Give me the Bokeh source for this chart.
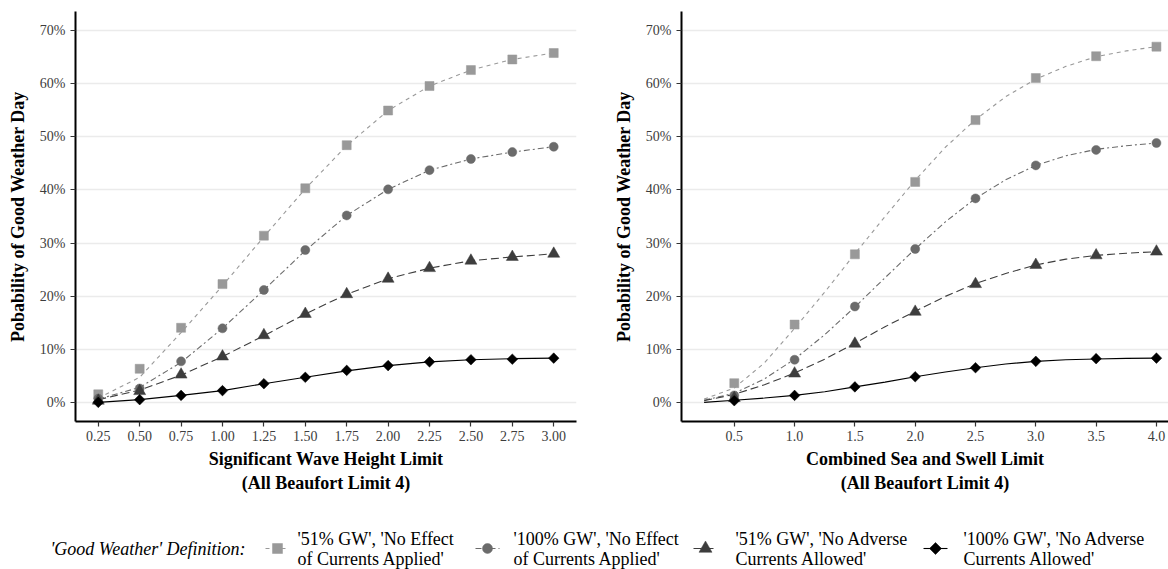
import numpy as np
from bokeh.plotting import figure
from bokeh.models import Range1d, FixedTicker, PrintfTickFormatter
from bokeh.layouts import column, row
from bokeh.embed import file_html
from bokeh.resources import INLINE
from bokeh.core.properties import value

FONT = "Liberation Serif"

# ---------------- data: left panel (Significant Wave Height Limit) ----------------
swh_x = [0.25, 0.50, 0.75, 1.00, 1.25, 1.50, 1.75, 2.00, 2.25, 2.50, 2.75, 3.00]
swh_51_noeffect = [1.6, 6.4, 14.1, 22.3, 31.4, 40.3, 48.4, 54.9, 59.5, 62.5, 64.5, 65.7]
swh_100_noeffect = [0.8, 2.7, 7.8, 14.0, 21.2, 28.7, 35.2, 40.1, 43.7, 45.8, 47.1, 48.1]
swh_51_noadverse = [0.4, 2.2, 5.3, 8.7, 12.7, 16.7, 20.4, 23.3, 25.3, 26.7, 27.4, 28.0]
swh_100_noadverse = [0.1, 0.6, 1.4, 2.3, 3.6, 4.8, 6.1, 7.0, 7.7, 8.1, 8.2, 8.4]
# fitted curves as drawn
swh_fit_51_noeffect = [0.9, 4.8, 13.2, 22.0, 31.2, 40.2, 48.3, 54.9, 59.5, 62.5, 64.5, 65.7]
swh_fit_100_noeffect = [0.7, 2.9, 7.6, 14.0, 21.2, 28.6, 35.2, 40.1, 43.7, 45.8, 47.1, 48.1]
swh_fit_51_noadverse = [0.6, 2.4, 5.2, 8.7, 12.6, 16.7, 20.4, 23.3, 25.3, 26.7, 27.4, 28.0]
swh_fit_100_noadverse = [0.1, 0.6, 1.4, 2.3, 3.6, 4.8, 6.0, 7.0, 7.7, 8.1, 8.3, 8.4]

# ---------------- data: right panel (Combined Sea and Swell Limit) ----------------
css_x = [0.5, 1.0, 1.5, 2.0, 2.5, 3.0, 3.5, 4.0]
css_51_noeffect = [3.7, 14.7, 27.9, 41.5, 53.1, 61.0, 65.1, 66.9]
css_100_noeffect = [1.4, 8.1, 18.1, 28.9, 38.4, 44.6, 47.5, 48.8]
css_51_noadverse = [0.9, 5.5, 11.1, 17.1, 22.3, 25.9, 27.7, 28.4]
css_100_noadverse = [0.4, 1.4, 3.0, 4.9, 6.6, 7.8, 8.3, 8.4]
css_fit_x = [0.25, 0.50, 0.75, 1.00, 1.25, 1.50, 1.75, 2.00, 2.25, 2.50, 2.75, 3.00, 3.25, 3.50, 3.75, 4.00]
css_fit_51_noeffect = [0.7, 2.8, 7.5, 14.0, 20.8, 28.0, 35.0, 41.8, 48.0, 53.2, 57.5, 60.8, 63.2, 65.0, 66.1, 66.9]
css_fit_100_noeffect = [0.5, 1.8, 4.5, 8.2, 12.8, 18.0, 23.5, 28.9, 34.0, 38.4, 41.9, 44.6, 46.4, 47.6, 48.3, 48.8]
css_fit_51_noadverse = [0.4, 1.6, 3.4, 5.6, 8.2, 11.2, 14.3, 17.2, 20.0, 22.4, 24.3, 25.9, 27.0, 27.7, 28.1, 28.4]
css_fit_100_noadverse = [0.1, 0.5, 0.9, 1.4, 2.1, 3.0, 3.9, 4.9, 5.8, 6.6, 7.3, 7.8, 8.1, 8.25, 8.35, 8.4]

y_ticks = [0, 10, 20, 30, 40, 50, 60, 70]
swh_ticks = [0.25, 0.50, 0.75, 1.00, 1.25, 1.50, 1.75, 2.00, 2.25, 2.50, 2.75, 3.00]
css_ticks = [0.5, 1.0, 1.5, 2.0, 2.5, 3.0, 3.5, 4.0]

series_labels = [
    "'51% GW', 'No Effect\nof Currents Applied'",
    "'100% GW', 'No Effect\nof Currents Applied'",
    "'51% GW', 'No Adverse\nCurrents Allowed'",
    "'100% GW', 'No Adverse\nCurrents Allowed'",
]
legend_title = "'Good Weather' Definition:"
y_title = "Pobability of Good Weather Day"
left_x_title = "Significant Wave Height Limit\n(All Beaufort Limit 4)"
right_x_title = "Combined Sea and Swell Limit\n(All Beaufort Limit 4)"

# ---------------- styles ----------------
COLORS = ["#999999", "#6b6b6b", "#3d3d3d", "#000000"]
DASHES = ["4 4", "6 3 2 3", "8 4", "solid"]
MARKERS = ["square", "circle", "triangle", "square"]
SIZES = [9, 9, 12, 7.5]
ANGLES = [0, 0, 0, np.pi / 4]

PANEL_H = 495


def make_panel(width, mb_left, mb_right, xr, ticks, fmt, xlabel, fit_x, fits, px, pts):
    p = figure(width=width, height=PANEL_H, x_range=Range1d(*xr), y_range=Range1d(-3.5, 73.5),
               output_backend="svg", toolbar_location=None,
               min_border_left=mb_left, min_border_right=mb_right,
               min_border_top=11, min_border_bottom=74)
    p.outline_line_color = None
    p.background_fill_color = "white"
    p.border_fill_color = "white"
    p.xgrid.visible = False
    p.ygrid.grid_line_color = "#ebebeb"
    p.ygrid.grid_line_width = 1.3
    p.yaxis.ticker = FixedTicker(ticks=y_ticks)
    p.yaxis.formatter = PrintfTickFormatter(format="%d%%")
    p.xaxis.ticker = FixedTicker(ticks=ticks)
    p.xaxis.formatter = PrintfTickFormatter(format=fmt)
    for ax in (p.xaxis[0], p.yaxis[0]):
        ax.axis_line_width = 2
        ax.axis_line_color = "black"
        ax.major_tick_line_color = "#333333"
        ax.major_tick_line_width = 1.2
        ax.major_tick_out = 5
        ax.major_tick_in = 0
        ax.minor_tick_out = 0
        ax.minor_tick_in = 0
        ax.major_label_text_font = FONT
        ax.major_label_text_font_size = "14px"
        ax.major_label_text_color = "#3d3d3d"
        ax.axis_label_text_font = FONT
        ax.axis_label_text_font_size = "18px"
        ax.axis_label_text_font_style = "bold"
        ax.axis_label_text_color = "black"
    p.xaxis.major_label_standoff = 4
    p.xaxis.axis_label_standoff = 5
    p.yaxis.major_label_standoff = 5
    p.yaxis.axis_label_standoff = 9
    p.xaxis.axis_label = xlabel
    p.yaxis.axis_label = y_title

    for i in range(4):
        p.line(fit_x, fits[i], line_color=COLORS[i], line_width=1.1, line_dash=DASHES[i])
    for i in range(4):
        p.scatter(px, pts[i], marker=MARKERS[i], size=SIZES[i], angle=ANGLES[i],
                  fill_color=COLORS[i], line_color=COLORS[i], line_width=0.5)
    return p


p1 = make_panel(610, 75, 34, (0.1125, 3.1375), swh_ticks, "%.2f", left_x_title,
                swh_x,
                [swh_fit_51_noeffect, swh_fit_100_noeffect, swh_fit_51_noadverse, swh_fit_100_noadverse],
                swh_x,
                [swh_51_noeffect, swh_100_noeffect, swh_51_noadverse, swh_100_noadverse])

p2 = make_panel(558, 67, 0, (0.0625, 4.1), css_ticks, "%.1f", right_x_title,
                css_fit_x,
                [css_fit_51_noeffect, css_fit_100_noeffect, css_fit_51_noadverse, css_fit_100_noadverse],
                css_x,
                [css_51_noeffect, css_100_noeffect, css_51_noadverse, css_100_noadverse])

# ---------------- legend strip ----------------
LEG_H = 74
leg = figure(width=1168, height=LEG_H, x_range=Range1d(0, 1168), y_range=Range1d(LEG_H, 0),
             output_backend="svg", toolbar_location=None,
             x_axis_location=None, y_axis_location=None,
             min_border_left=0, min_border_right=0, min_border_top=0, min_border_bottom=0)
leg.outline_line_color = None
leg.grid.visible = False

LEG_Y = 53
key_x = [277, 487, 705, 935]
text_x = [297, 513, 735, 963]

leg.text(x=[50], y=[LEG_Y], text=[legend_title], text_font=value(FONT), text_font_style="italic",
         text_font_size="18px", text_baseline="middle", text_align="left", text_color="black")
for i in range(4):
    leg.segment(x0=[key_x[i] - 12], x1=[key_x[i] + 12], y0=[LEG_Y], y1=[LEG_Y],
                line_color=COLORS[i], line_width=1.1, line_dash=DASHES[i])
    leg.scatter([key_x[i]], [LEG_Y], marker=MARKERS[i], size=SIZES[i] + 1, angle=ANGLES[i],
                fill_color=COLORS[i], line_color=COLORS[i], line_width=0.5)
    leg.text(x=[text_x[i]], y=[LEG_Y], text=[series_labels[i]], text_font=value(FONT),
             text_font_size="18px", text_baseline="middle", text_align="left",
             text_color="black", text_line_height=1.0)

layout = column(row(p1, p2), leg)
open("out.html", "w").write(file_html(layout, INLINE))
